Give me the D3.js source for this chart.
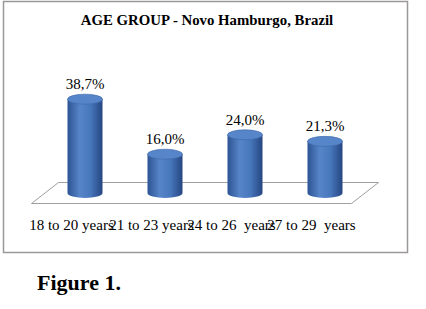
<!DOCTYPE html>
<html>
<head>
<meta charset="utf-8">
<script src="https://cdn.jsdelivr.net/npm/d3@7"></script>
<style>
  body { margin: 0; background: #fff; }
  svg text { font-family: "Liberation Serif", "Times New Roman", "DejaVu Serif", serif; }
</style>
</head>
<body>
<div id="chart"></div>
<script>
// data
const categories = ["18 to 20 years", "21 to 23 years", "24 to 26  years", "27 to 29  years"];
const values = [38.7, 16.0, 24.0, 21.3];
const valueLabels = ["38,7%", "16,0%", "24,0%", "21,3%"];

const width = 426;
const height = 309;

// floor depth offset (pseudo 3d)
const depthX = 27;
const depthY = 21;
const barRadius = 17.5;
const capRy = 5;

const svg = d3.select("#chart").append("svg")
    .attr("width", width)
    .attr("height", height);

const defs = svg.append("defs");
const grad = defs.append("linearGradient")
    .attr("id", "barGrad")
    .attr("x1", "0%").attr("x2", "100%").attr("y1", "0%").attr("y2", "0%");
grad.append("stop").attr("offset", "0%").attr("stop-color", "#2e5392");
grad.append("stop").attr("offset", "35%").attr("stop-color", "#5685c8");
grad.append("stop").attr("offset", "65%").attr("stop-color", "#4878bc");
grad.append("stop").attr("offset", "100%").attr("stop-color", "#264682");

// outer frame
svg.append("rect")
    .attr("x", 3.5).attr("y", 1.5)
    .attr("width", 404).attr("height", 251)
    .attr("fill", "none")
    .attr("stroke", "#9c9898")
    .attr("stroke-width", 1.5);

// title
svg.append("text")
    .attr("x", 207)
    .attr("y", 25)
    .attr("text-anchor", "middle")
    .attr("font-weight", "bold")
    .attr("font-size", "14.8px")
    .text("AGE GROUP - Novo Hamburgo, Brazil");

// scales
const x = d3.scaleBand()
    .domain(categories)
    .range([45, 365]);

const y = d3.scaleLinear()
    .domain([0, 40])
    .range([193, 96]);

// floor parallelogram
const x0 = x.range()[0], x1 = x.range()[1], y0 = y(0);
const floor = [
    [x0 - depthX / 2, y0 + depthY / 2],
    [x1 - depthX / 2, y0 + depthY / 2],
    [x1 + depthX / 2, y0 - depthY / 2],
    [x0 + depthX / 2, y0 - depthY / 2]
];
svg.append("path")
    .attr("d", d3.line()(floor) + "Z")
    .attr("fill", "#fff")
    .attr("stroke", "#a0a0a0")
    .attr("stroke-width", 1);

// cylinders
const bars = svg.append("g")
    .selectAll("g")
    .data(categories.map((c, i) => ({cat: c, value: values[i], label: valueLabels[i]})))
    .join("g");

bars.append("path")
    .attr("d", d => {
        const cx = x(d.cat) + x.bandwidth() / 2;
        const top = y(d.value), bot = y(0);
        return `M${cx - barRadius},${top} L${cx - barRadius},${bot}`
            + ` A${barRadius},${capRy} 0 0 0 ${cx + barRadius},${bot}`
            + ` L${cx + barRadius},${top} Z`;
    })
    .attr("fill", "url(#barGrad)");

bars.append("ellipse")
    .attr("cx", d => x(d.cat) + x.bandwidth() / 2)
    .attr("cy", d => y(d.value))
    .attr("rx", barRadius)
    .attr("ry", capRy)
    .attr("fill", "#5686c9")
    .attr("stroke", "#3d67a8")
    .attr("stroke-width", 0.6);

// value labels
bars.append("text")
    .attr("x", d => x(d.cat) + x.bandwidth() / 2)
    .attr("y", d => y(d.value) - capRy - 5)
    .attr("text-anchor", "middle")
    .attr("font-size", "15px")
    .attr("fill", "#000")
    .text(d => d.label);

// category labels along the front edge of the floor
svg.append("g")
    .selectAll("text")
    .data(categories)
    .join("text")
    .attr("x", d => x(d) + x.bandwidth() / 2 - depthX / 2)
    .attr("y", 230)
    .attr("text-anchor", "middle")
    .attr("font-size", "15px")
    .attr("fill", "#000")
    .style("white-space", "pre")
    .text(d => d);

// caption
svg.append("text")
    .attr("x", 37)
    .attr("y", 290)
    .attr("font-weight", "bold")
    .attr("font-size", "22px")
    .text("Figure 1.");
</script>
</body>
</html>
